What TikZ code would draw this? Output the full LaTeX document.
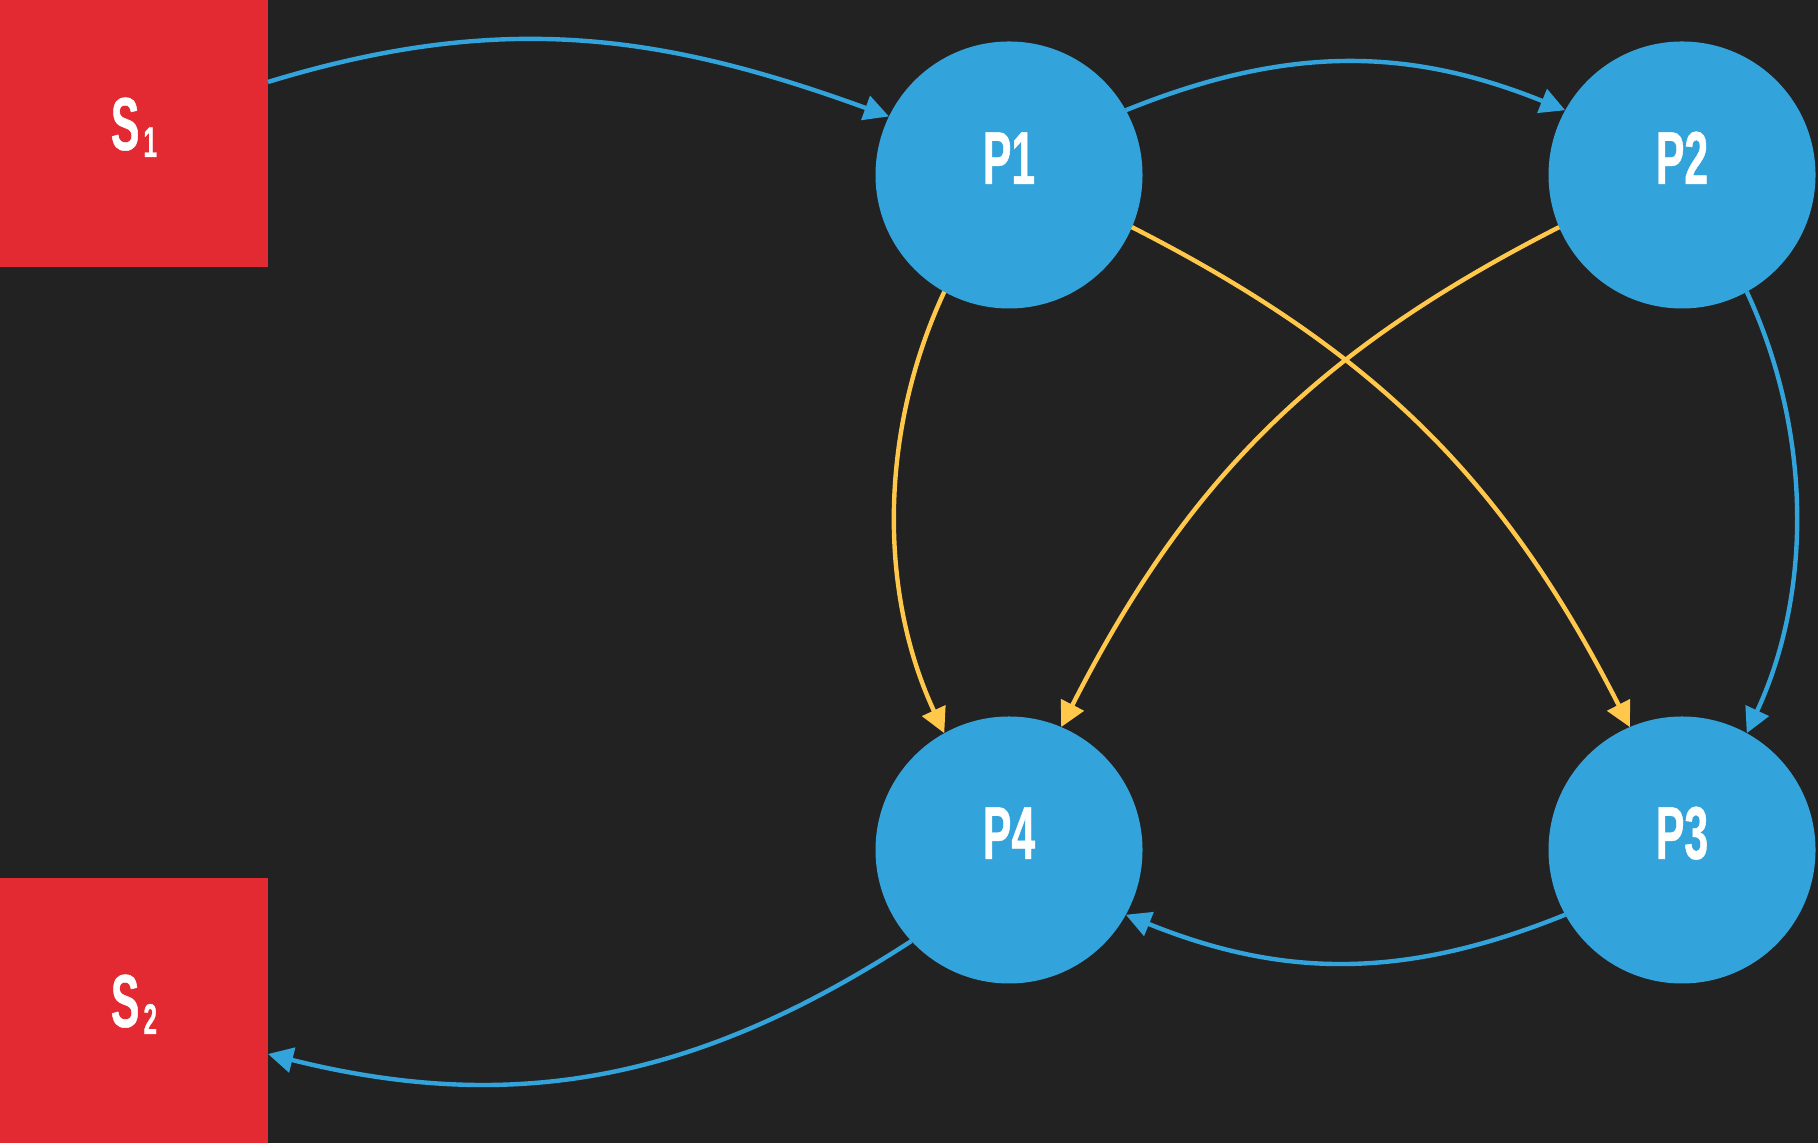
\documentclass[tikz,border=0pt]{standalone}
\usepackage{fontspec}
\usepackage{graphicx}
\usetikzlibrary{arrows.meta}
\newfontfamily\dinfont{Liberation Sans}[FakeStretch=0.57,FakeBold=0.6]
\definecolor{bgc}{HTML}{222222}
\definecolor{sred}{HTML}{E32931}
\definecolor{pblue}{HTML}{33A4DB}
\definecolor{pyel}{HTML}{FFC84B}
\tikzset{
  sq/.style={rectangle, fill=sred, minimum width=134pt, minimum height=133.5pt, inner sep=0pt, outer sep=0pt},
  pc/.style={circle, fill=pblue, minimum size=133.5pt, inner sep=0pt, outer sep=0pt},
  lbl/.style={text=white, font={\dinfont\bfseries\fontsize{37.5}{40}\selectfont}, anchor=base, inner sep=0pt},
  tipa/.style={-{Triangle[length=12.5pt,width=12.5pt]}},
  bluearr/.style={draw=pblue, line width=2.2pt, tipa},
  yelarr/.style={draw=pyel, line width=2.2pt, tipa},
}
\begin{document}
\begin{tikzpicture}[x=0.5pt,y=0.5pt]
\fill[bgc] (0,0) rectangle (1818,1143);
\useasboundingbox (0,0) rectangle (1818,1143);
% boxes
\node[sq] (s1) at (134,1009.5) {};
\node[sq, minimum height=132.5pt] (s2) at (134,132.5) {};
% processes
\node[pc] (p1) at (1009,968) {};
\node[pc] (p2) at (1682,968) {};
\node[pc] (p4) at (1009,293) {};
\node[pc] (p3) at (1682,293) {};
% labels
\node[lbl] (s1t) at ([yshift=-8.25pt]s1.center) {S\hspace{2pt}\raisebox{-3.5pt}{\fontsize{21.5}{22}\selectfont 1}};
\node[lbl] (s2t) at ([yshift=-8.25pt]s2.center) {S\hspace{2pt}\raisebox{-3.5pt}{\fontsize{21.5}{22}\selectfont 2}};
\node[lbl] (p1t) at ([yshift=-4.5pt]p1.center) {P1};
\node[lbl] (p2t) at ([yshift=-4.5pt]p2.center) {P2};
\node[lbl] (p3t) at ([yshift=-4.5pt]p3.center) {P3};
\node[lbl] (p4t) at ([yshift=-4.5pt]p4.center) {P4};
% connectors
\draw[bluearr] ([yshift=25.75pt]s1.east) to[out=17,in=160] (p1.154);
\draw[bluearr] (p1.29) to[out=22,in=158] (p2.151);
\draw[yelarr] (p1.-23) to[out=-27,in=117] (p3.113);
\draw[yelarr] (p2.203) to[out=207,in=63] (p4.67);
\draw[yelarr] (p1.-119) to[out=-115,in=115,looseness=0.9] (p4.119);
\draw[bluearr] (p2.-61) to[out=-65,in=65,looseness=0.9] (p3.61);
\draw[bluearr] (p3.209) to[out=202,in=-22] (p4.-29);
\draw[bluearr] (p4.223) to[out=213,in=-14] ([yshift=-21.75pt]s2.east);
\end{tikzpicture}
\end{document}
